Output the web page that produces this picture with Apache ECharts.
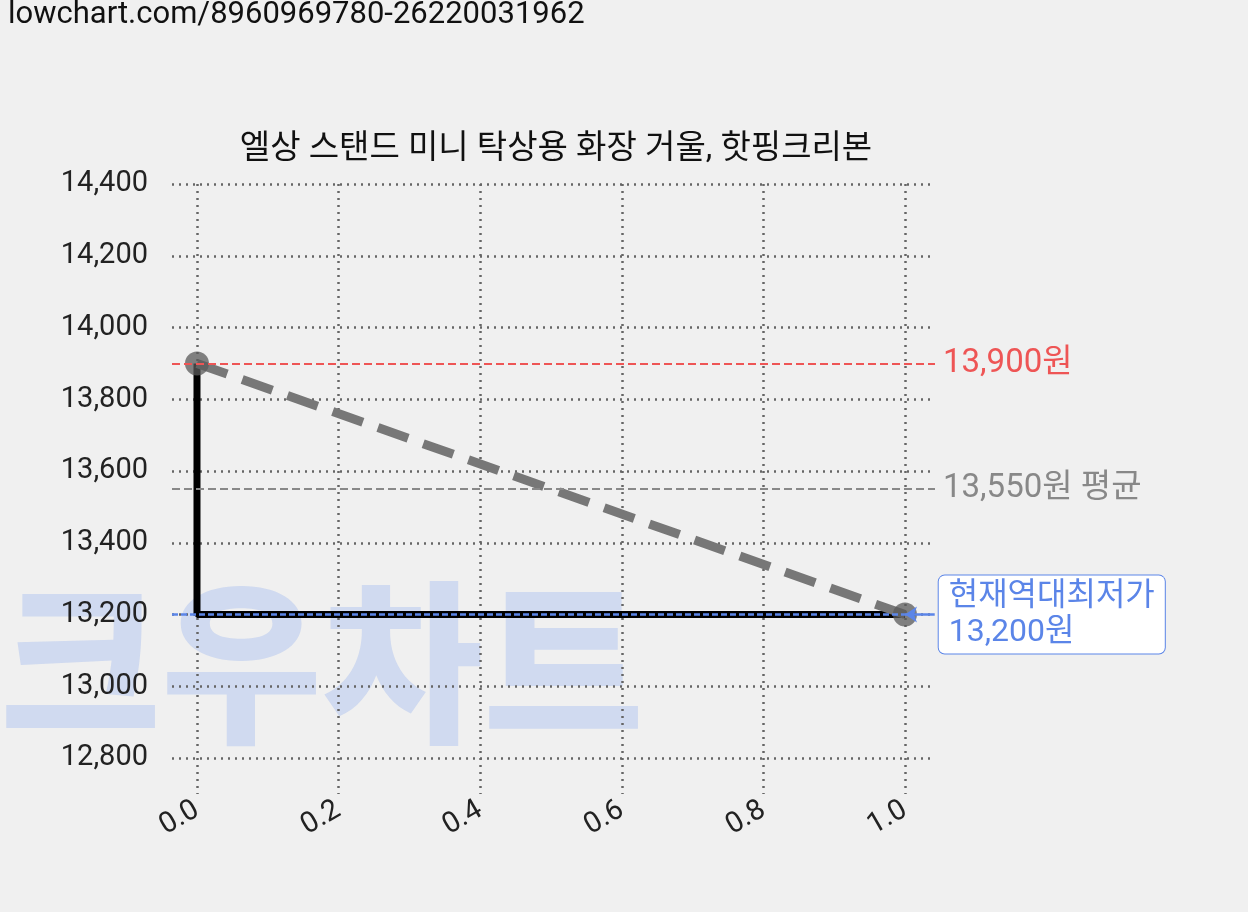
<!DOCTYPE html>
<html><head><meta charset="utf-8">
<script src="https://cdn.jsdelivr.net/npm/echarts@6/dist/echarts.min.js"></script>
<style>body{margin:0;background:#f0f0f0}#c{width:1248px;height:912px}</style>
</head><body><div id="c"></div>
<script>
const stepLine = [[0,13900],[0,13200],[1,13200]];
const trendLine = [[0,13900],[1,13200]];
const xTicks = [0,0.2,0.4,0.6,0.8,1.0];
const yTicks = [12800,13000,13200,13400,13600,13800,14000,14200,14400];
const maxPrice = 13900, avgPrice = 13550, minPrice = 13200;
const F = '"Roboto","Noto Sans CJK KR",sans-serif';
const chart = echarts.init(document.getElementById('c'));
chart.setOption({
  backgroundColor:'#f0f0f0',
  animation:false,
  title:{text:'엘상 스탠드 미니 탁상용 화장 거울, 핫핑크리본',left:551,textAlign:'center',top:128,
    textStyle:{fontFamily:F,fontSize:33,fontWeight:'normal',color:'#111'}},
  graphic:[
    {type:'text',left:8,top:0,style:{text:'lowchart.com/8960969780-26220031962',fontFamily:F,fontSize:31,fill:'#111'}},
    {type:'text',left:0,top:598,z:-1,silent:true,style:{text:'크우차트',fontFamily:F,fontSize:175,fontWeight:'900',fill:'rgba(110,150,240,0.25)'}}
  ],
  grid:{left:172,right:313,top:184,bottom:118},
  xAxis:{type:'value',min:-0.0353,max:1.0424,
    axisLine:{show:false},
    axisTick:{show:false,customValues:xTicks},
    axisLabel:{customValues:xTicks,rotate:30,fontFamily:F,fontSize:29,color:'#222',margin:14,formatter:v=>v.toFixed(1)},
    splitLine:{show:true,lineStyle:{color:'#666',type:[2,5],width:2.5}}},
  yAxis:{type:'value',min:12700,max:14400,
    axisLine:{show:false},
    axisTick:{show:false,customValues:yTicks},
    axisLabel:{customValues:yTicks,fontFamily:F,fontSize:29,color:'#222',margin:24,formatter:v=>v.toLocaleString('en-US')},
    splitLine:{show:true,lineStyle:{color:'#666',type:[2,5],width:2.5}}},
  series:[
    {type:'line',data:stepLine,symbol:'none',lineStyle:{color:'#000',width:7},z:3,
     markLine:{silent:true,symbol:'none',z:5,data:[
       {yAxis:maxPrice,lineStyle:{color:'#ee5555',type:[8,4],width:2},
        label:{formatter:'13,900원',position:'end',distance:8,color:'#ee5555',fontFamily:F,fontSize:33}},
       {yAxis:avgPrice,lineStyle:{color:'#888',type:[8,4],width:2},
        label:{formatter:'13,550원 평균',position:'end',distance:8,color:'#888',fontFamily:F,fontSize:33}},
       [{coord:[-0.0353,minPrice]},{coord:[1.0,minPrice]}].map(o=>Object.assign(o,{lineStyle:{color:'#5b85e8',type:[6,3],width:2.5},label:{show:false}})),
       [{coord:[1.042,minPrice],symbol:'none'},{coord:[1.0,minPrice],symbol:'arrow',symbolSize:12}].map(o=>Object.assign(o,{lineStyle:{color:'#5b85e8',type:'solid',width:2.5},
        label:{show:true,position:'start',distance:4,formatter:'현재역대최저가\n13,200원',color:'#5b85e8',fontFamily:F,fontSize:32,lineHeight:36,
          backgroundColor:'#fff',borderColor:'#5b85e8',borderWidth:1,borderRadius:6,padding:[3,10,3,10],align:'left'}}))
     ]}},
    {type:'line',data:trendLine,symbol:'circle',symbolSize:24,z:4,
     itemStyle:{color:'rgba(90,90,90,0.75)'},
     lineStyle:{color:'#777',width:9,type:[32,16]}}
  ]
});
</script></body></html>
